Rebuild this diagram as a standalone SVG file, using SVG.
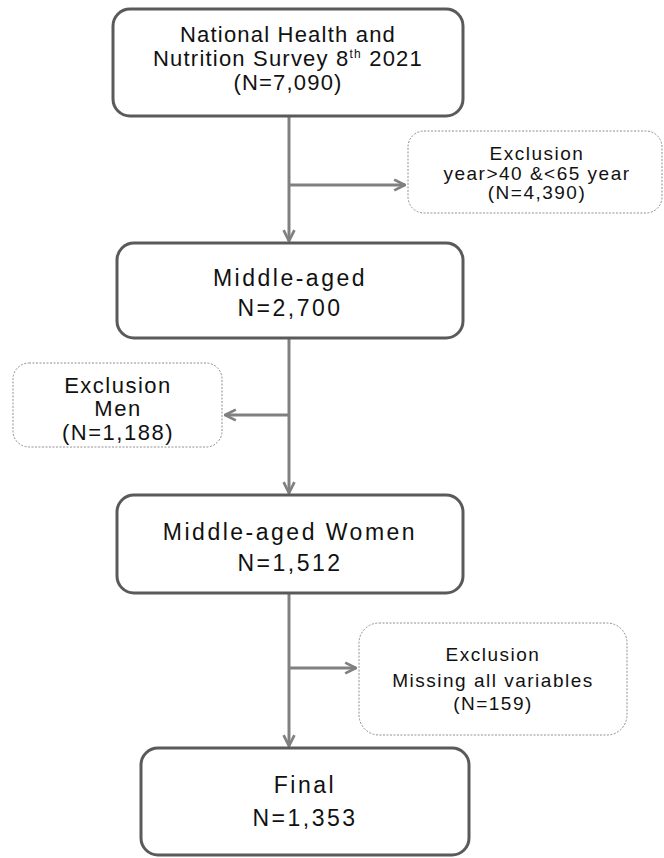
<svg xmlns="http://www.w3.org/2000/svg" width="664" height="858" viewBox="0 0 664 858">
<style>
.main{fill:#fff;stroke:#5a5a5a;stroke-width:3}
.excl{fill:#fff;stroke:#8f8f8f;stroke-width:1;stroke-dasharray:2 1.5}
.conn{fill:none;stroke:#808080;stroke-width:3}
text{font-family:"Liberation Sans",Arial,sans-serif;fill:#111;text-anchor:middle}
.t1{font-size:22px;letter-spacing:1.2px}
.tm{font-size:23px;letter-spacing:2.5px}
.te{font-size:19px;letter-spacing:1.5px}
.tmen{font-size:22px;letter-spacing:1.5px}
</style>
<defs>
<marker id="arr" viewBox="0 0 10 10" refX="9" refY="5" markerWidth="4.5" markerHeight="4.5" orient="auto" markerUnits="strokeWidth">
<path d="M1,1 L9,5 L1,9" fill="none" stroke="#808080" stroke-width="2"/>
</marker>
</defs>
<rect width="664" height="858" fill="#fff"/>
<g id="connectors">
<line class="conn" x1="289" y1="116" x2="289" y2="241" marker-end="url(#arr)"/>
<line class="conn" x1="289" y1="185" x2="405" y2="185" marker-end="url(#arr)"/>
<line class="conn" x1="289" y1="338" x2="289" y2="493" marker-end="url(#arr)"/>
<line class="conn" x1="289" y1="415" x2="225" y2="415" marker-end="url(#arr)"/>
<line class="conn" x1="289" y1="593" x2="289" y2="746" marker-end="url(#arr)"/>
<line class="conn" x1="289" y1="668" x2="356" y2="668" marker-end="url(#arr)"/>
</g>
<g id="n1">
<rect class="main" x="113" y="9" width="350" height="107" rx="17"/>
<text class="t1" x="288" y="42">National Health and</text>
<text class="t1" x="288" y="66">Nutrition Survey 8<tspan font-size="12" dy="-8">th</tspan><tspan dy="8"> 2021</tspan></text>
<text class="t1" x="288" y="90">(N=7,090)</text>
</g>
<g id="e1">
<rect class="excl" x="408" y="131" width="254" height="82" rx="16"/>
<text class="te" x="537" y="160">Exclusion</text>
<text class="te" x="537" y="180">year&gt;40 &amp;&lt;65 year</text>
<text class="te" x="537" y="199">(N=4,390)</text>
</g>
<g id="n2">
<rect class="main" x="117" y="243" width="346" height="95" rx="17"/>
<text class="tm" x="290" y="286">Middle-aged</text>
<text class="tm" x="290" y="316">N=2,700</text>
</g>
<g id="e2">
<rect class="excl" x="13" y="363" width="209" height="84" rx="16"/>
<text class="tmen" x="118" y="393">Exclusion</text>
<text class="tmen" x="118" y="416">Men</text>
<text class="tmen" x="118" y="440">(N=1,188)</text>
</g>
<g id="n3">
<rect class="main" x="117" y="495" width="346" height="98" rx="17"/>
<text class="tm" x="290" y="540">Middle-aged Women</text>
<text class="tm" x="290" y="571">N=1,512</text>
</g>
<g id="e3">
<rect class="excl" x="359" y="623" width="268" height="112" rx="20"/>
<text class="te" x="493" y="661">Exclusion</text>
<text class="te" x="493" y="687">Missing all variables</text>
<text class="te" x="493" y="710">(N=159)</text>
</g>
<g id="n4">
<rect class="main" x="141" y="748" width="328" height="107" rx="17"/>
<text class="tm" x="305" y="793">Final</text>
<text class="tm" x="305" y="826">N=1,353</text>
</g>
</svg>
